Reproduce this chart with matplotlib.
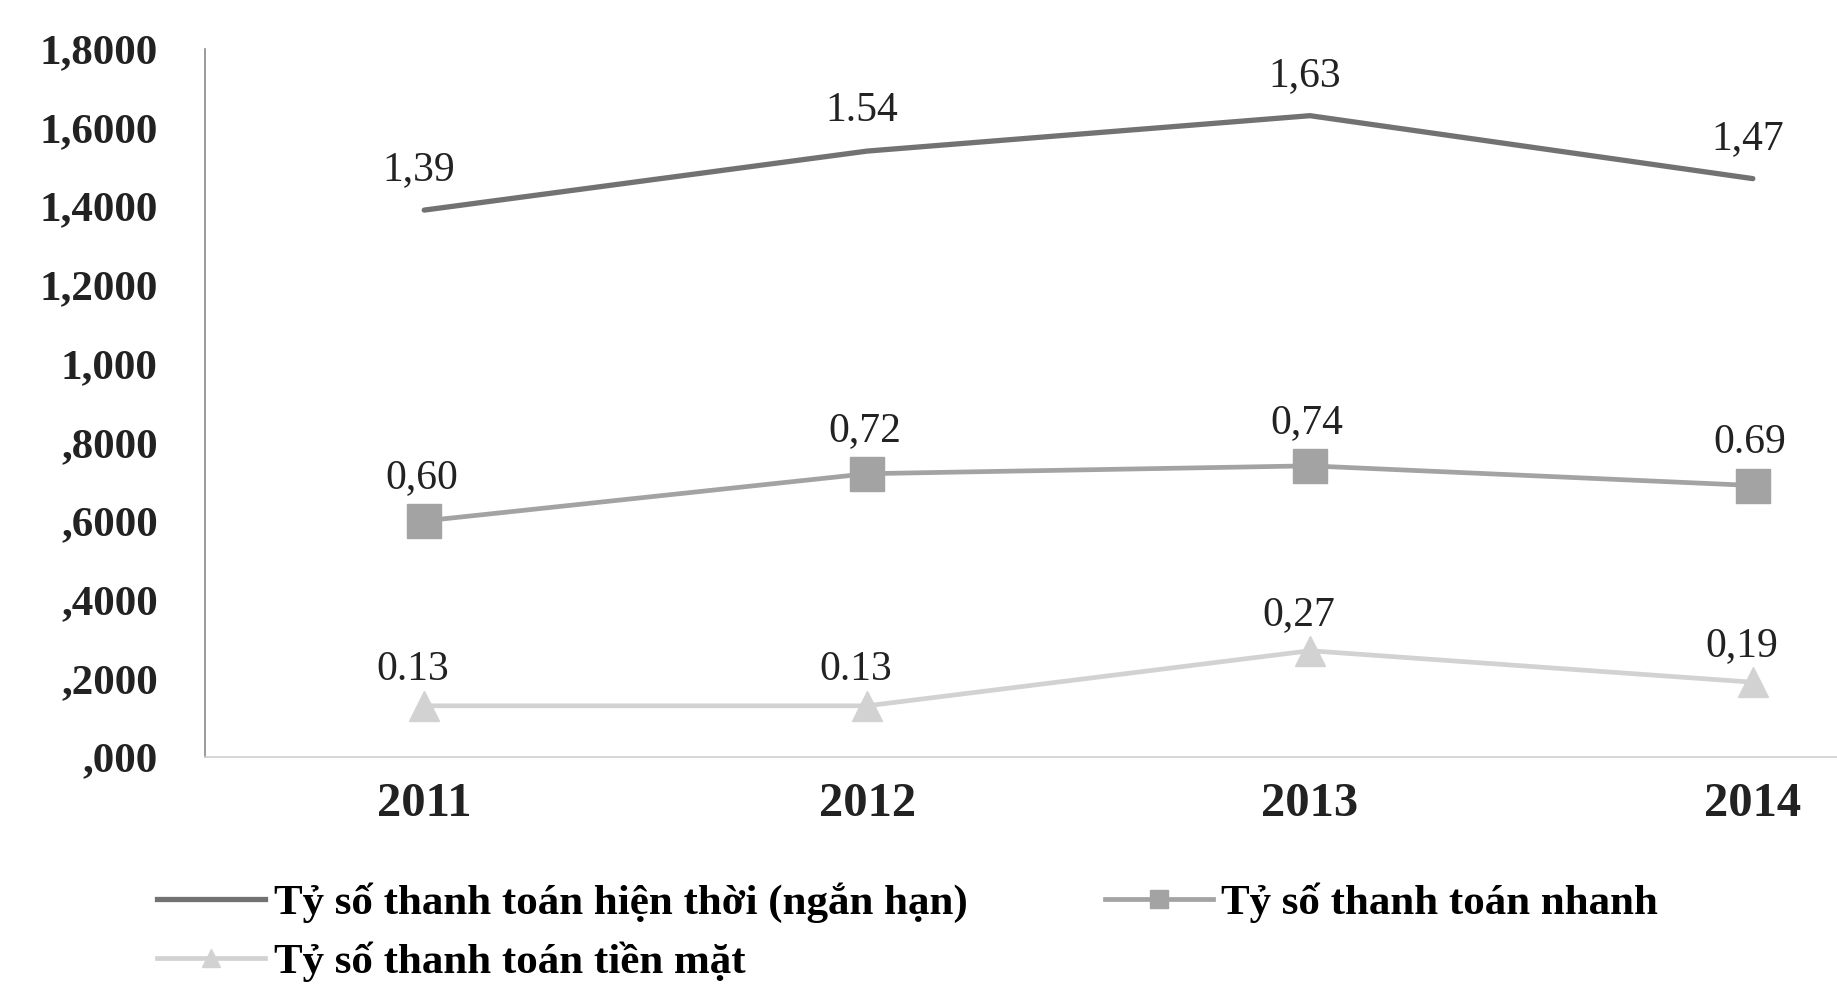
import matplotlib
matplotlib.use("Agg")
import matplotlib.pyplot as plt
from matplotlib.lines import Line2D

years = ["2011", "2012", "2013", "2014"]
current_ratio = [1.39, 1.54, 1.63, 1.47]
quick_ratio = [0.60, 0.72, 0.74, 0.69]
cash_ratio = [0.13, 0.13, 0.27, 0.19]
current_labels = ["1,39", "1.54", "1,63", "1,47"]
quick_labels = ["0,60", "0,72", "0,74", "0.69"]
cash_labels = ["0.13", "0.13", "0,27", "0,19"]
y_ticks = [0.0, 0.2, 0.4, 0.6, 0.8, 1.0, 1.2, 1.4, 1.6, 1.8]
y_tick_labels = [",000", ",2000", ",4000", ",6000", ",8000", "1,000",
                 "1,2000", "1,4000", "1,6000", "1,8000"]
series_names = ["Tỷ số thanh toán hiện thời (ngắn hạn)",
                "Tỷ số thanh toán nhanh",
                "Tỷ số thanh toán tiền mặt"]

plt.rcParams['font.family'] = ['Liberation Serif', 'DejaVu Serif']

fig = plt.figure(figsize=(18.37, 9.96), dpi=100)
ax = fig.add_axes([0.1116, 0.24, 0.8884, 0.711])

x = list(range(len(years)))
c_cur, c_quick, c_cash = "#727272", "#a3a3a3", "#d2d2d2"

ax.plot(x, current_ratio, color=c_cur, lw=3.8, solid_capstyle='round')
ax.plot(x, quick_ratio, color=c_quick, lw=3.4, marker='s', markersize=25,
        markerfacecolor=c_quick, markeredgecolor=c_quick)
ax.plot(x, cash_ratio, color=c_cash, lw=3.4, marker='^', markersize=22,
        markerfacecolor=c_cash, markeredgecolor=c_cash)

lab_kw = dict(textcoords='offset points', ha='center', va='bottom',
              fontsize=30, color='#222222')
for xi, v, t in zip(x, current_ratio, current_labels):
    ax.annotate(t, (xi, v), xytext=(-4, 15), **lab_kw)
for xi, v, t in zip(x, quick_ratio, quick_labels):
    ax.annotate(t, (xi, v), xytext=(-2, 17), **lab_kw)
for xi, v, t in zip(x, cash_ratio, cash_labels):
    ax.annotate(t, (xi, v), xytext=(-8, 12), **lab_kw)

ax.set_xlim(-0.495, 3.19)
ax.set_ylim(0, 1.8)
ax.set_xticks(x)
ax.set_xticklabels(years, fontsize=35, fontweight='bold', color='#222222')
ax.set_yticks(y_ticks)
ax.set_yticklabels(y_tick_labels, fontsize=31, fontweight='bold', color='#222222')
ax.tick_params(axis='both', length=0)
ax.tick_params(axis='x', pad=18)
ax.tick_params(axis='y', pad=34)

for s in ['top', 'right']:
    ax.spines[s].set_visible(False)
ax.spines['left'].set_color('#8a8a8a')
ax.spines['left'].set_linewidth(1.2)
ax.spines['left'].set_linestyle((0, (2, 1)))
ax.spines['bottom'].set_color('#cfcfcf')
ax.spines['bottom'].set_linewidth(1.2)
ax.spines['bottom'].set_linestyle((0, (2, 1)))

h_cur = Line2D([], [], color=c_cur, lw=3.8)
h_quick = Line2D([], [], color=c_quick, lw=3.4, marker='s', markersize=13)
h_cash = Line2D([], [], color=c_cash, lw=3.4, marker='^', markersize=13)
fig.legend([h_cur, h_cash, h_quick],
           [series_names[0], series_names[2], series_names[1]],
           ncol=2, loc='upper left', bbox_to_anchor=(0.074, 0.136),
           frameon=False, handlelength=2.5, handletextpad=0.2,
           columnspacing=3.2, labelspacing=0.45, borderpad=0,
           prop={'size': 31, 'weight': 'bold'})

fig.savefig("out.png", dpi=100, facecolor='white')
